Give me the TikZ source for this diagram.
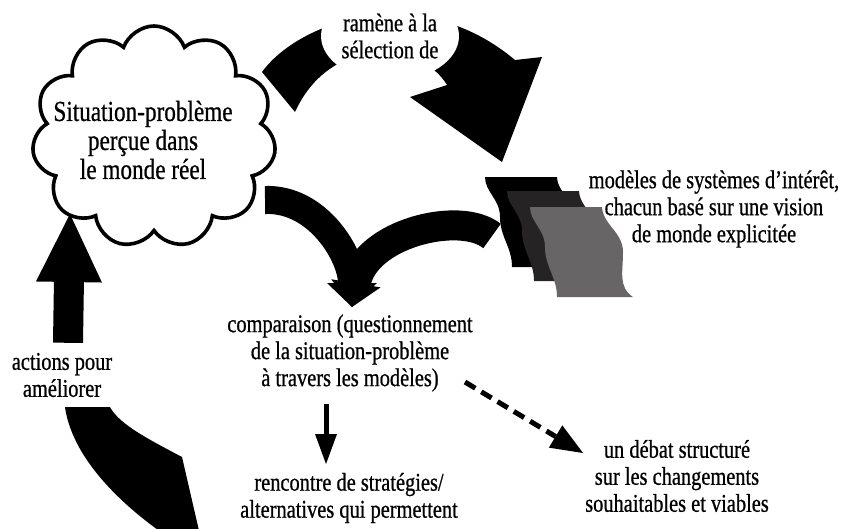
\documentclass[tikz,border=0pt]{standalone}
\usepackage{fontspec}
\setmainfont{Liberation Serif}[FakeStretch=0.8,FakeBold=0.7]
\usetikzlibrary{arrows.meta,shapes.symbols,shapes.geometric,backgrounds,calc}

\definecolor{modfonce}{HTML}{262324}
\definecolor{modgris}{HTML}{686566}

\tikzset{
  pics/modele/.style={code={
    \fill[#1] (0,0) -- (72,0) .. controls (73,18) and (93,25) .. (93,45)
      .. controls (93,65) and (88,80) .. (103,90) -- (27,90)
      .. controls (27,70) and (15,60) .. (15,40)
      .. controls (15,22) and (0,15) .. (0,0) -- cycle;
  }},
}

\begin{document}
\begin{tikzpicture}[
  x=1pt, y=-1pt,
  txt/.style={align=center, inner sep=2pt, font=\fontsize{25.5}{27}\selectfont},
  nuage/.style={cloud, cloud puffs=11, cloud puff arc=140, cloud ignores aspect,
                draw, line width=3.6pt, fill=white, inner sep=0pt,
                minimum width=244pt, minimum height=222pt},
  bulle/.style={txt, ellipse, fill=white, inner sep=0pt,
                minimum width=138pt, minimum height=90pt},
  fine/.style={line width=5pt, -{Triangle[length=30pt,width=22pt,line width=0pt]}},
  tirets/.style={line width=5pt, dash pattern=on 12pt off 7pt,
                 -{Triangle[length=32pt,width=26pt,line width=0pt]}},
]
\useasboundingbox (0,0) rectangle (842,528);

% ---------- textes ----------
\node[nuage] (situation) at (154,137) {};
\node[align=center, font=\fontsize{29}{29}\selectfont] (sittxt) at (143,140)
  {Situation-problème\\perçue dans\\le monde réel};
\node[bulle] (ramene) at (390,36) {ramène à la\\sélection de};
\node[txt] (modeles) at (714,209) {modèles de systèmes d’intérêt,\\chacun basé sur une vision\\de monde explicitée};
\node[txt] (comparaison) at (350,353) {comparaison (questionnement\\de la situation-problème\\à travers les modèles)};
\node[txt] (rencontre) at (349,498) {rencontre de stratégies/\\alternatives qui permettent};
\node[txt] (debat) at (677,476) {un débat structuré\\sur les changements\\souhaitables et viables};
\node[txt, fill=white, minimum height=64pt] (actions) at (62,375) {actions pour\\améliorer};

% ---------- modeles ----------
\pic at (485,177) {modele=black};
\pic at (507,191) {modele=modfonce};
\pic at (530,207) {modele=modgris};

% ---------- grosses fleches ----------
\begin{scope}[on background layer]
  % ramene a la selection de
  \coordinate (selA) at (262,72);
  \coordinate (selB) at (502,162);
  \fill (selA) .. controls (300,20) and (420,-20) .. (515,60) -- (542,57) -- (selB)
    -- (410,97) -- (447,85) .. controls (420,40) and (330,35) .. (295,112) -- cycle;

  \coordinate (depS) at (265,200);
  \coordinate (depM) at (492,236);
  \coordinate (pointe) at (352,307);
  \draw[line width=28pt, -{Triangle[length=24pt,width=50pt,line width=0pt]}]
    (depS) .. controls (318,198) and (352,256) .. (pointe);
  \draw[line width=30pt, -{Triangle[length=24pt,width=50pt,line width=0pt]}]
    (depM) .. controls (460,210) and (364,234) .. (pointe);

  % actions pour ameliorer
  \coordinate (bas) at (182,457);
  \coordinate (entree) at (70,214);
  \fill ($(actions.south)+(3,0)$) .. controls (72,455) and (115,500) .. (165,535)
    -- (200,535) -- (bas) .. controls (150,440) and (120,425) .. ($(actions.south)+(48,0)$) -- cycle;
  \draw[line width=30pt, -{Triangle[length=68pt,width=66pt,line width=0pt]}]
    ($(actions.north)+(6,0)$) -- (entree);
\end{scope}

% ---------- fleches fines ----------
\coordinate (flA) at (326,404);
\coordinate (flB) at (326,464);
\draw[fine] (flA) -- (flB);
\coordinate (tiA) at (465,382);
\coordinate (tiB) at (583,453);
\draw[tirets] (tiA) -- (tiB);

\end{tikzpicture}
\end{document}
